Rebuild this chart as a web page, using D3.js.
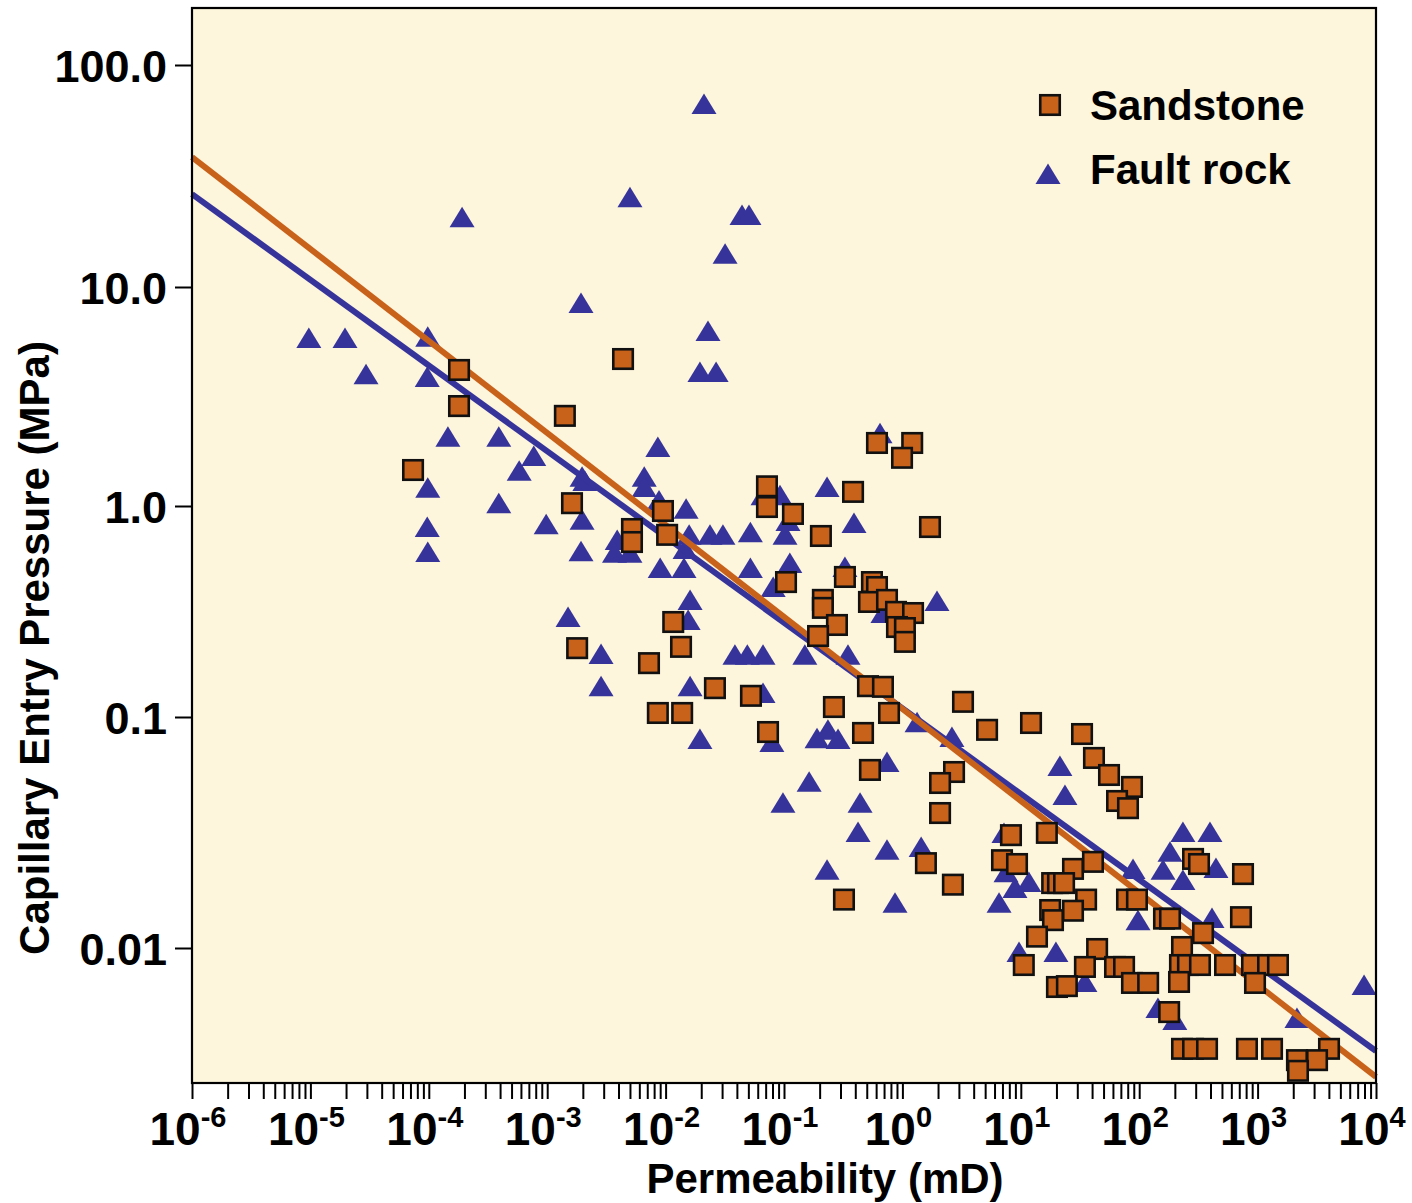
<!DOCTYPE html>
<html>
<head>
<meta charset="utf-8">
<script src="https://cdn.jsdelivr.net/npm/d3@7"></script>
<style>
  body { margin: 0; background: #fff; }
  text { font-family: "Liberation Sans", Arial, Helvetica, sans-serif; font-weight: bold; fill: #000; }
</style>
</head>
<body>
<svg id="chart" width="1412" height="1203"></svg>
<script>
// Sandstone: permeability (mD) and capillary entry pressure (MPa)
const sandK = [1.8e-4, 1.8e-4, 1.41e-3, 7.36e-5, 1.62e-3, 1.79e-3, 4.37e-3, 0.61, 1.21, 0.993,
  7.18e-2, 7.18e-2, 0.383, 0.119, 9.5e-3, 5.2e-3, 5.2e-3, 1.03e-2, 0.205, 1.71,
  0.104, 0.327, 0.553, 0.61, 0.213, 0.213, 0.522, 0.741, 0.883, 1.23,
  0.9, 1.05, 1.05, 0.28, 0.194, 1.16e-2, 1.35e-2, 7.24e-3, 2.61e-2, 8.6e-3,
  1.38e-2, 5.26e-2, 7.33e-2, 0.512, 0.685, 0.264, 0.771, 0.465, 3.25, 12.2,
  5.19, 0.532, 2.73, 2.08, 2.08, 8.26, 16.6, 6.94, 9.29, 1.58,
  2.67, 0.321, 18.4, 20.6, 17.7, 18.7, 13.7, 10.6, 20.2, 32.9,
  41.5, 55.6, 86.9, 65.0, 80.4, 27.6, 40.7, 23.2, 35.6, 27.6,
  44.1, 34.8, 62.5, 74.5, 24.5, 86.9, 119, 78.9, 95.7, 162,
  182, 285, 320, 753, 724, 346, 230, 221, 258, 326,
  217, 531, 897, 1225, 1486, 951, 179, 230, 285, 374,
  813, 1324, 4010, 3177, 2150, 2193];
const sandP = [4.18, 2.86, 2.58, 1.46, 1.03, 0.212, 4.69, 1.94, 1.94, 1.66,
  1.23, 0.989, 1.16, 0.917, 0.947, 0.778, 0.675, 0.73, 0.721, 0.795,
  0.436, 0.461, 0.436, 0.413, 0.359, 0.329, 0.351, 0.359, 0.315, 0.311,
  0.267, 0.264, 0.227, 0.273, 0.242, 0.282, 0.215, 0.180, 0.137, 0.1045,
  0.1045, 0.126, 0.0861, 0.140, 0.139, 0.1115, 0.1045, 0.0853, 0.118, 0.0942,
  0.088, 0.059, 0.0578, 0.0518, 0.0384, 0.0308, 0.0315, 0.024, 0.0231, 0.0233,
  0.0188, 0.0162, 0.0191, 0.0191, 0.0146, 0.0132, 0.0112, 0.00844, 0.00678, 0.0844,
  0.0665, 0.0561, 0.0498, 0.0433, 0.0403, 0.022, 0.0236, 0.0191, 0.0162, 0.0145,
  0.0099, 0.00828, 0.00828, 0.00828, 0.00684, 0.00706, 0.00706, 0.0162, 0.0162, 0.0134,
  0.0134, 0.0243, 0.0231, 0.0209, 0.0136, 0.0116, 0.0101, 0.00844, 0.00844, 0.00844,
  0.00713, 0.00844, 0.00844, 0.00844, 0.00844, 0.00706, 0.00528, 0.00366, 0.00366, 0.00366,
  0.00366, 0.00366, 0.00366, 0.00327, 0.00327, 0.00294];

// Fault rock
const faultK = [9.7e-6, 1.96e-5, 9.8e-5, 2.95e-5, 9.7e-5, 1.45e-4, 3.9e-4, 7.7e-4, 5.8e-4, 1.97e-3,
  2.08e-3, 9.8e-5, 3.9e-4, 1.97e-3, 9.8e-4, 9.7e-5, 9.8e-5, 1.93e-3, 3.9e-3, 3.7e-3,
  5.0e-3, 1.5e-3, 2.85e-3, 2.85e-3, 8.6e-3, 6.6e-3, 6.6e-3, 8.8e-3, 1.49e-2, 1.58e-2,
  2.37e-2, 3.05e-2, 5.2e-2, 9.0e-3, 1.43e-2, 1.46e-2, 5.2e-2, 8.1e-2, 0.112, 0.102,
  0.108, 6.65e-2, 9.25e-2, 0.231, 0.39, 0.647, 0.327, 0.685, 1.96, 1.61e-2,
  1.55e-2, 3.85e-2, 4.9e-2, 6.65e-2, 0.150, 0.347, 1.61e-2, 6.65e-2, 1.95e-2, 7.9e-2,
  0.190, 0.235, 0.286, 1.33, 0.741, 2.62, 0.163, 9.8e-2, 0.439, 0.422,
  0.741, 1.44, 0.231, 0.866, 6.55, 21.4, 23.6, 7.21, 7.5, 8.93,
  11.7, 9.66, 19.8, 34.8, 88.7, 97.7, 182, 159, 234, 396,
  234, 445, 412, 144, 200, 2150, 7930, 2.11e-2, 5.0e-3, 1.91e-4,
  4.42e-2, 5.06e-2, 3.18e-2, 1.93e-3, 2.28e-2, 1.95e-2, 2.67e-2];
const faultP = [5.85, 5.85, 5.92, 4.0, 3.88, 2.07, 2.07, 1.69, 1.45, 1.36,
  1.30, 1.21, 1.03, 0.86, 0.82, 0.795, 0.605, 0.61, 0.69, 0.60,
  0.60, 0.298, 0.199, 0.140, 1.86, 1.36, 1.22, 1.06, 0.97, 0.73,
  0.73, 0.73, 0.75, 0.508, 0.508, 0.625, 0.508, 0.413, 0.537, 0.73,
  0.85, 1.12, 1.12, 1.22, 0.83, 2.15, 0.514, 0.311, 0.355, 0.359,
  0.288, 0.197, 0.197, 0.197, 0.197, 0.197, 0.140, 0.130, 0.0804, 0.078,
  0.081, 0.088, 0.0804, 0.095, 0.0638, 0.0819, 0.0524, 0.0425, 0.0425, 0.0318,
  0.0266, 0.0274, 0.0218, 0.0157, 0.0157, 0.0614, 0.0459, 0.0315, 0.0213, 0.0182,
  0.0193, 0.0096, 0.0096, 0.00713, 0.022, 0.0132, 0.0261, 0.0218, 0.0318, 0.0318,
  0.0197, 0.0222, 0.0135, 0.0055, 0.00488, 0.00498, 0.00692, 66.7, 25.4, 20.6,
  21.1, 21.1, 14.1, 8.45, 6.29, 4.09, 4.09];

// power-law fit lines, end points at the axis limits
const fitK = [1e-6, 1e4];
const sandFitP = [38.5, 0.00277];
const faultFitP = [26.2, 0.00358];

const pTicks = [100, 10, 1, 0.1, 0.01];
const pTickLabels = ['100.0', '10.0', '1.0', '0.1', '0.01'];
const kExponents = [-6, -5, -4, -3, -2, -1, 0, 1, 2, 3, 4];
const minorMult = [2, 3, 4, 5, 6, 7, 8, 9];

const seriesNames = ['Sandstone', 'Fault rock'];

const orange = '#c8621b';
const blue = '#36349b';
const cream = '#fdf5dc';

const svg = d3.select('#chart');
const plot = { left: 192, right: 1376, top: 8, bottom: 1083 };

const x = d3.scaleLog().domain([1e-6, 1e4]).range([plot.left, plot.right]);
// the source figure's decades are not evenly spaced, so the log scale is piecewise
const y = d3.scaleLog().domain(pTicks).range([65, 287, 506, 717, 948]);

svg.append('rect')
  .attr('x', plot.left).attr('y', plot.top)
  .attr('width', plot.right - plot.left).attr('height', plot.bottom - plot.top)
  .attr('fill', cream);

const tri = (cx, cy) => `M${cx},${cy - 10.5}L${cx + 12.5},${cy + 10}L${cx - 12.5},${cy + 10}Z`;

// fault rock triangles
svg.append('g')
  .selectAll('path')
  .data(d3.range(faultK.length))
  .join('path')
  .attr('d', i => tri(x(faultK[i]), y(faultP[i])))
  .attr('fill', blue);

// fit lines
const line = d3.line().x(d => x(d[0])).y(d => y(d[1]));
svg.append('path')
  .datum(fitK.map((k, i) => [k, faultFitP[i]]))
  .attr('d', line)
  .attr('stroke', blue).attr('stroke-width', 6).attr('fill', 'none');
svg.append('path')
  .datum(fitK.map((k, i) => [k, sandFitP[i]]))
  .attr('d', line)
  .attr('stroke', orange).attr('stroke-width', 6).attr('fill', 'none');

// sandstone squares
const sq = 19.5;
svg.append('g')
  .selectAll('rect')
  .data(d3.range(sandK.length))
  .join('rect')
  .attr('x', i => x(sandK[i]) - sq / 2)
  .attr('y', i => y(sandP[i]) - sq / 2)
  .attr('width', sq).attr('height', sq)
  .attr('fill', orange)
  .attr('stroke', '#111').attr('stroke-width', 2.6);

// frame
svg.append('rect')
  .attr('x', plot.left).attr('y', plot.top)
  .attr('width', plot.right - plot.left).attr('height', plot.bottom - plot.top)
  .attr('fill', 'none').attr('stroke', '#000').attr('stroke-width', 2.2);

// x axis: decades plus minor ticks, all the same length
const kTicks = [];
kExponents.forEach(e => {
  kTicks.push(Math.pow(10, e));
  if (e < 4) minorMult.forEach(m => kTicks.push(m * Math.pow(10, e)));
});

const gx = svg.append('g')
  .attr('transform', `translate(0,${plot.bottom})`)
  .call(d3.axisBottom(x).tickValues(kTicks).tickSize(16).tickFormat(''));
gx.select('.domain').remove();
gx.selectAll('.tick line').attr('stroke', '#000').attr('stroke-width', 2);

const xl = svg.append('g')
  .selectAll('text')
  .data(kExponents)
  .join('text')
  .attr('x', e => x(Math.pow(10, e)) - 4)
  .attr('y', 1145)
  .attr('text-anchor', 'middle')
  .style('font-size', '46px');
xl.append('tspan').text('10');
xl.append('tspan')
  .attr('dy', -18)
  .style('font-size', '29px')
  .text(e => String(e));

// y axis
const gy = svg.append('g')
  .attr('transform', `translate(${plot.left},0)`)
  .call(d3.axisLeft(y).tickValues(pTicks).tickSize(17).tickPadding(8)
    .tickFormat((d, i) => pTickLabels[i]));
gy.select('.domain').remove();
gy.selectAll('.tick line').attr('stroke', '#000').attr('stroke-width', 2);
gy.selectAll('.tick text')
  .attr('dy', '0.37em')
  .attr('fill', '#000')
  .style('font-size', '45px')
  .style('font-family', '"Liberation Sans", Arial, sans-serif')
  .style('font-weight', 'bold');

// axis titles
svg.append('text')
  .attr('x', 825).attr('y', 1193)
  .attr('text-anchor', 'middle')
  .style('font-size', '42px')
  .text('Permeability (mD)');

svg.append('text')
  .attr('transform', 'translate(49,648) rotate(-90)')
  .attr('text-anchor', 'middle')
  .style('font-size', '42px')
  .text('Capillary Entry Pressure (MPa)');

// legend
const lg = svg.append('g');
lg.append('rect')
  .attr('x', 1050 - sq / 2).attr('y', 105 - sq / 2)
  .attr('width', sq).attr('height', sq)
  .attr('fill', orange).attr('stroke', '#111').attr('stroke-width', 2.6);
lg.append('path').attr('d', tri(1048, 174)).attr('fill', blue);
lg.selectAll('text')
  .data(seriesNames)
  .join('text')
  .attr('x', 1090)
  .attr('y', (d, i) => [120, 184][i])
  .style('font-size', '42px')
  .text(d => d);
</script>
</body>
</html>
